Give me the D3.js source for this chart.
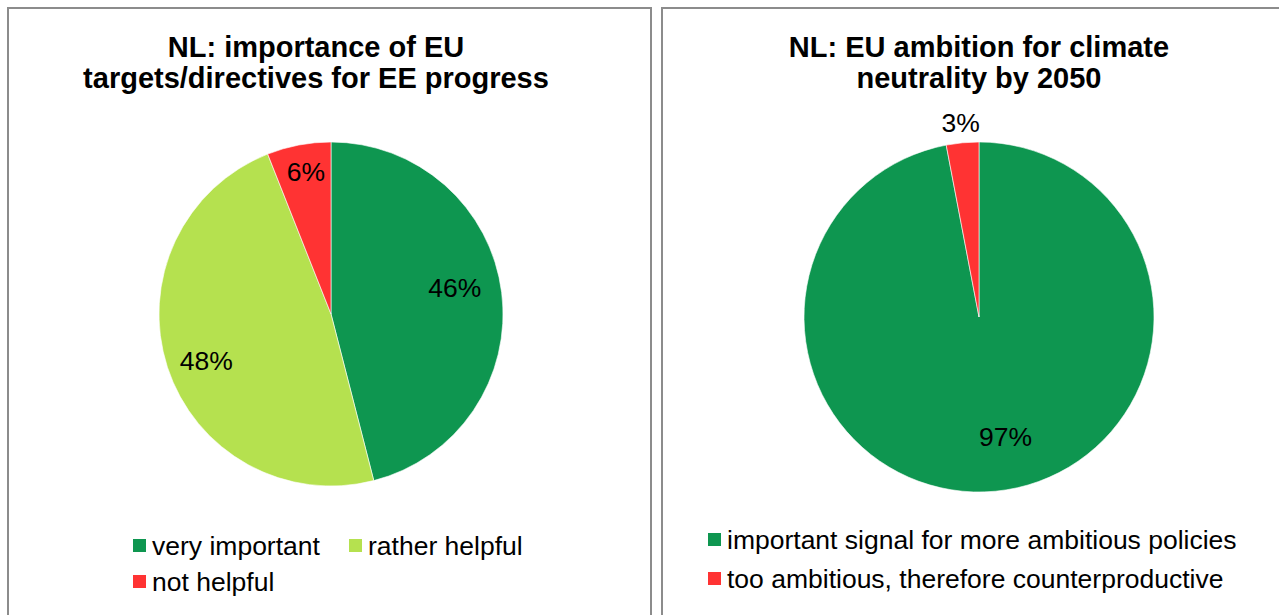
<!DOCTYPE html>
<html><head><meta charset="utf-8">
<script src="https://cdn.jsdelivr.net/npm/d3@7"></script>
<style>body{margin:0;background:#fff;}svg{display:block;font-family:"Liberation Sans",Arial,sans-serif;}</style>
</head><body>
<svg id="c" width="1279" height="615"></svg>
<script>
const leftTitle = ["NL: importance of EU", "targets/directives for EE progress"];
const leftCategories = ["very important", "rather helpful", "not helpful"];
const leftValues = [46, 48, 6];
const leftColors = ["#0e9650", "#b5e14f", "#ff3333"];

const rightTitle = ["NL: EU ambition for climate", "neutrality by 2050"];
const rightCategories = ["important signal for more ambitious policies", "too ambitious, therefore counterproductive"];
const rightValues = [97, 3];
const rightColors = ["#0e9650", "#ff3333"];

const svg = d3.select("#c");

// panel borders
svg.append("rect").attr("x",8).attr("y",8).attr("width",643).attr("height",620)
  .attr("fill","none").attr("stroke","#8c8c8c").attr("stroke-width",2);
svg.append("rect").attr("x",662).attr("y",8).attr("width",640).attr("height",620)
  .attr("fill","none").attr("stroke","#8c8c8c").attr("stroke-width",2);

function drawPie(cfg){
  const g = svg.append("g");
  g.selectAll("text.title").data(cfg.title).join("text")
    .attr("x", cfg.tx).attr("y",(d,i)=>cfg.ty + i*31)
    .attr("text-anchor","middle").attr("font-size",29).attr("font-weight","bold")
    .attr("fill","#000").text(d=>d);
  const pie = d3.pie().sort(null).value(d=>d)(cfg.values);
  const arc = d3.arc().innerRadius(0).outerRadius(cfg.r);
  const pg = g.append("g").attr("transform",`translate(${cfg.cx},${cfg.cy})`);
  pg.selectAll("path").data(pie).join("path")
    .attr("d",arc).attr("fill",(d,i)=>cfg.colors[i])
    .attr("stroke","#ffffff").attr("stroke-width",0.6);
  pg.selectAll("text").data(pie).join("text")
    .attr("transform",(d,i)=>{
      const a=(d.startAngle+d.endAngle)/2;
      const rr=cfg.labelR[i]*cfg.r;
      const o=cfg.labelOff[i];
      return `translate(${Math.sin(a)*rr + o[0]},${-Math.cos(a)*rr + o[1]})`;
    })
    .attr("text-anchor","middle").attr("dy","0.35em")
    .attr("font-size",26.5).attr("fill","#000")
    .text(d=>d.data+"%");
  // legend
  const lg = g.append("g");
  cfg.legend.forEach((p,i)=>{
    lg.append("rect").attr("x",p[0]).attr("y",p[1]-7).attr("width",13).attr("height",13).attr("fill",cfg.colors[i]);
    lg.append("text").attr("x",p[0]+19).attr("y",p[1]).attr("dy","0.35em")
      .attr("font-size",26.5).attr("fill","#000").text(cfg.categories[i]);
  });
}

drawPie({title:leftTitle, tx:316, ty:57, values:leftValues, colors:leftColors, categories:leftCategories,
  cx:331, cy:314, r:172, labelR:[0.72,0.72,0.87], labelOff:[[1,-11],[-7,8],[3,5]],
  legend:[[133,546],[349,546],[133,582]]});
drawPie({title:rightTitle, tx:979, ty:57, values:rightValues, colors:rightColors, categories:rightCategories,
  cx:979, cy:317, r:175, labelR:[0.7,1.12], labelOff:[[15,-2],[0,1]],
  legend:[[708,540],[708,579]]});
</script>
</body></html>
